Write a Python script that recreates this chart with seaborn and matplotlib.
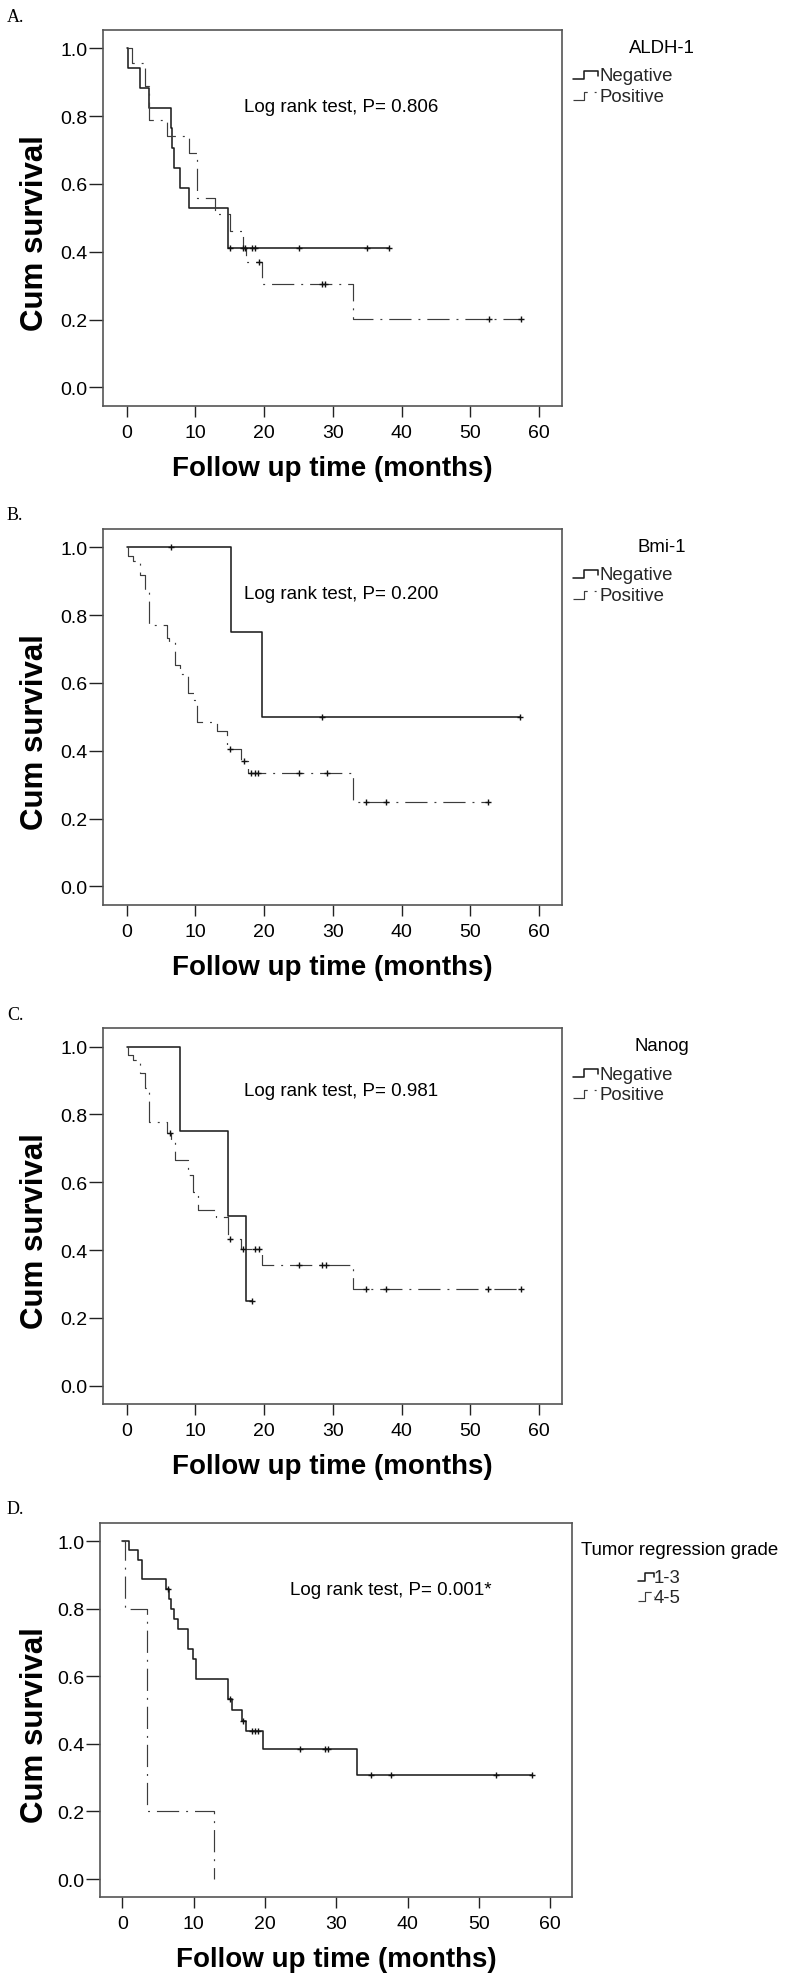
import numpy as np
import pandas as pd
import matplotlib
matplotlib.use("Agg")
import matplotlib.pyplot as plt
import seaborn as sns
from matplotlib.lines import Line2D
from matplotlib.legend_handler import HandlerBase
from matplotlib.ticker import FormatStrFormatter

# ---------------- data ----------------
# Panel A - ALDH-1
aldh_neg_time = [0, 0.2, 1.9, 3.25, 6.4, 6.55, 6.9, 7.8, 9.0, 14.75]
aldh_neg_surv = [1.0, 0.941, 0.882, 0.824, 0.765, 0.706, 0.647, 0.588, 0.529, 0.412]
aldh_neg_cens = [15.1, 16.9, 17.2, 18.2, 18.7, 25.0, 35.0, 38.1]
aldh_pos_time = [0, 0.8, 2.6, 3.25, 5.8, 9.1, 10.2, 12.9, 15.0, 16.9, 17.3, 19.7, 33.0]
aldh_pos_surv = [1.0, 0.958, 0.89, 0.79, 0.742, 0.69, 0.56, 0.51, 0.462, 0.41, 0.37, 0.305, 0.202]
aldh_pos_cens = [19.3, 28.4, 28.9, 52.7, 57.4]

# Panel B - Bmi-1
bmi_neg_time = [0, 15.2, 19.7]
bmi_neg_surv = [1.0, 0.75, 0.5]
bmi_neg_cens = [6.4, 28.4, 57.2]
bmi_pos_time = [0, 0.24, 0.87, 1.94, 2.66, 3.29, 5.82, 6.2, 7.03, 7.76, 8.97, 9.8,
                10.28, 13.1, 14.55, 16.7, 17.7, 33.0]
bmi_pos_surv = [1.0, 0.973, 0.96, 0.919, 0.875, 0.771, 0.732, 0.722, 0.653, 0.627, 0.57, 0.55,
                0.486, 0.458, 0.405, 0.37, 0.333, 0.25]
bmi_pos_cens = [15.0, 17.0, 18.1, 18.6, 19.1, 25.0, 29.1, 34.8, 37.8, 52.6]

# Panel C - Nanog
nanog_neg_time = [0, 7.8, 14.7, 17.4]
nanog_neg_surv = [1.0, 0.75, 0.5, 0.25]
nanog_neg_cens = [18.2]
nanog_pos_time = [0, 0.2, 0.87, 1.94, 2.66, 3.29, 5.82, 6.45, 7.03, 8.9, 9.6, 10.3,
                  13.0, 14.7, 16.6, 19.65, 33.0]
nanog_pos_surv = [1.0, 0.975, 0.96, 0.921, 0.877, 0.778, 0.744, 0.719, 0.665, 0.62, 0.57, 0.517,
                  0.498, 0.433, 0.402, 0.355, 0.286]
nanog_pos_cens = [6.3, 15.0, 16.9, 18.7, 19.2, 25.0, 28.4, 29.0, 34.8, 37.8, 52.6, 57.4]

# Panel D - Tumor regression grade
trg13_time = [0, 0.94, 2.15, 2.72, 2.8, 6.09, 6.55, 6.83, 7.3, 7.85, 9.17, 9.87, 10.3,
              14.78, 15.34, 16.75, 17.35, 19.69, 32.9]
trg13_surv = [1.0, 0.973, 0.944, 0.914, 0.887, 0.858, 0.83, 0.80, 0.771, 0.741, 0.68, 0.65, 0.593,
              0.534, 0.499, 0.469, 0.437, 0.385, 0.308]
trg13_cens = [6.45, 15.1, 16.97, 18.15, 18.6, 19.08, 24.9, 28.4, 28.9, 34.9, 37.7, 52.4, 57.5]
trg45_time = [0, 0.38, 3.42, 12.9]
trg45_surv = [1.0, 0.8, 0.2, 0.0]
trg45_cens = []

panel_letters = ["A.", "B.", "C.", "D."]
legend_titles = ["ALDH-1", "Bmi-1", "Nanog", "Tumor regression grade"]
group_labels = [["Negative", "Positive"], ["Negative", "Positive"],
                ["Negative", "Positive"], ["1-3", "4-5"]]
p_texts = ["Log rank test, P= 0.806", "Log rank test, P= 0.200",
           "Log rank test, P= 0.981", "Log rank test, P= 0.001*"]
x_ticks = [0, 10, 20, 30, 40, 50, 60]
y_ticks = [0.0, 0.2, 0.4, 0.6, 0.8, 1.0]

groups = [
    [(aldh_neg_time, aldh_neg_surv, aldh_neg_cens), (aldh_pos_time, aldh_pos_surv, aldh_pos_cens)],
    [(bmi_neg_time, bmi_neg_surv, bmi_neg_cens), (bmi_pos_time, bmi_pos_surv, bmi_pos_cens)],
    [(nanog_neg_time, nanog_neg_surv, nanog_neg_cens), (nanog_pos_time, nanog_pos_surv, nanog_pos_cens)],
    [(trg13_time, trg13_surv, trg13_cens), (trg45_time, trg45_surv, trg45_cens)],
]

# ---------------- style ----------------
sns.set_theme(style="white")
plt.rcParams["font.family"] = ["Liberation Sans", "DejaVu Sans"]
plt.rcParams["lines.scale_dashes"] = False

W, H = 786, 1981
fig = plt.figure(figsize=(W / 100, H / 100), dpi=100)
fig.patch.set_facecolor("white")

# layout in pixels: left, right, top, bottom of the box; x-limits
layout = [
    dict(L=103.3, R=561.7, T=31.0, B=406.7, xlim=(-3.41, 63.3)),
    dict(L=103.3, R=561.7, T=530.0, B=905.7, xlim=(-3.41, 63.3)),
    dict(L=103.3, R=561.7, T=1029.3, B=1405.0, xlim=(-3.41, 63.3)),
    dict(L=100.5, R=572.0, T=1524.0, B=1898.3, xlim=(-3.06, 63.07)),
]
text_pos = [(17.0, 0.829), (17.0, 0.865), (17.0, 0.872), (23.5, 0.858)]
# legend: handle-left px, first-row top px, title x px, title y px, title ha, handlelength, textpad, spacing
leg_layout = [
    (573, 68.4, 661.7, 48.7, "center", 1.34, 0.1, 0.204),
    (573, 567.4, 661.7, 547.7, "center", 1.34, 0.1, 0.204),
    (573, 1066.7, 661.7, 1047.0, "center", 1.34, 0.1, 0.204),
    (638, 1570.1, 580.7, 1550.3, "left", 0.86, 0.0, 0.15),
]

NEG_COLOR, POS_COLOR = "#1e1e1e", "#3c3c3c"
NEG_LW, POS_LW = 1.15, 0.85
POS_LS = (0, (16, 5, 1.4, 5))


class StepHandler(HandlerBase):
    def create_artists(self, legend, orig_handle, xdescent, ydescent,
                       width, height, fontsize, trans):
        x0, y0 = -xdescent, -ydescent
        xs = x0 + width * np.array([0.0, 0.45, 0.45, 1.0, 1.0])
        ys = y0 + height * np.array([0.05, 0.05, 0.75, 0.75, 0.35])
        ln = Line2D(xs, ys)
        ln.update_from(orig_handle)
        ln.set_transform(trans)
        return [ln]


def km_frame(times, surv, cens):
    t, s = list(times), list(surv)
    end = max(cens) if len(cens) else t[-1]
    if end > t[-1]:
        t.append(end)
        s.append(s[-1])
    return pd.DataFrame({"time": t, "surv": s})


def level_at(times, surv, xs):
    idx = np.searchsorted(np.asarray(times), np.asarray(xs), side="right") - 1
    return np.asarray(surv)[idx]


for i in range(4):
    g = layout[i]
    ax = fig.add_axes([g["L"] / W, 1 - g["B"] / H, (g["R"] - g["L"]) / W, (g["B"] - g["T"]) / H])
    ax.set_facecolor("white")
    styles = [(NEG_COLOR, NEG_LW, "-"), (POS_COLOR, POS_LW, POS_LS)]
    for (t, s, c), (col, lw, ls) in zip(groups[i], styles):
        df = km_frame(t, s, c)
        sns.lineplot(data=df, x="time", y="surv", drawstyle="steps-post", estimator=None,
                     sort=False, color=col, linewidth=lw, linestyle=ls, ax=ax, legend=False)
        if len(c):
            cs = level_at(t, s, c)
            sns.scatterplot(x=c, y=cs, marker="+", s=20, color="#111111", linewidth=1.0,
                            ax=ax, legend=False, zorder=3)

    ax.set_xlim(*g["xlim"])
    ax.set_ylim(-0.054, 1.054)
    ax.set_xticks(x_ticks)
    ax.set_yticks(y_ticks)
    ax.yaxis.set_major_formatter(FormatStrFormatter("%.1f"))
    ax.tick_params(axis="x", bottom=True, direction="out", length=8, width=1.0,
                   color="#222222", labelsize=14, pad=5, labelcolor="black")
    ax.tick_params(axis="y", left=True, direction="out", length=10, width=1.0,
                   color="#222222", labelsize=14, pad=1.5, labelcolor="black")
    for sp in ax.spines.values():
        sp.set_color("#555555")
        sp.set_linewidth(1.2)

    hpx = g["B"] - g["T"]
    wpx = g["R"] - g["L"]
    ax.set_xlabel("Follow up time (months)", fontsize=20, fontweight="bold", color="black")
    ax.xaxis.set_label_coords(0.5, -62 / hpx)
    ax.xaxis.label.set_va("center")
    ax.set_ylabel("Cum survival", fontsize=22.5, fontweight="bold", color="black")
    ax.yaxis.set_label_coords((35 - g["L"]) / wpx, 0.5 - 14 / hpx)
    ax.yaxis.label.set_va("center")

    tx, ty = text_pos[i]
    ax.text(tx, ty, p_texts[i], fontsize=13.5, ha="left", va="center", color="black")

    # legend
    hl_x, row_top, tt_x, tt_y, tt_ha, hlen, tpad, lsp = leg_layout[i]
    h_neg = Line2D([], [], color=NEG_COLOR, lw=NEG_LW, linestyle="-")
    h_pos = Line2D([], [], color=POS_COLOR, lw=POS_LW, linestyle=POS_LS)
    ax.legend([h_neg, h_pos], group_labels[i], handler_map={Line2D: StepHandler()},
              loc="upper left", bbox_to_anchor=((hl_x - g["L"]) / wpx, 1 - (row_top - g["T"]) / hpx),
              frameon=False, fontsize=13.4, handlelength=hlen, handleheight=0.6,
              handletextpad=tpad, labelspacing=lsp, borderpad=0, borderaxespad=0)
    ax.text((tt_x - g["L"]) / wpx, 1 - (tt_y - g["T"]) / hpx, legend_titles[i],
            transform=ax.transAxes, ha=tt_ha, va="center", fontsize=13.4, color="black",
            clip_on=False)

    # panel letter
    fig.text(7 / W, 1 - (g["T"] - 14) / H, panel_letters[i], fontsize=13,
             family=["Liberation Serif", "DejaVu Serif"], ha="left", va="center", color="black")

fig.savefig("out.png", dpi=100, facecolor="white")
